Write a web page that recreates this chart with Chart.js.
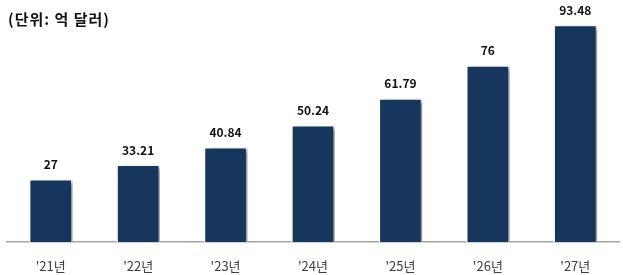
<!DOCTYPE html>
<html><head><meta charset="utf-8">
<script src="https://cdn.jsdelivr.net/npm/chart.js@4/dist/chart.umd.min.js"></script>
<style>html,body{margin:0;padding:0;background:#fff}#wrap{width:623px;height:275px}</style>
</head><body><div id="wrap"><canvas id="c"></canvas></div>
<script>
const categories = ["'21년","'22년","'23년","'24년","'25년","'26년","'27년"];
const values = [27, 33.21, 40.84, 50.24, 61.79, 76, 93.48];
const valueLabels = ["27","33.21","40.84","50.24","61.79","76","93.48"];
const unitLabel = "(단위: 억 달러)";
const FONT = "'Noto Sans CJK KR','Noto Sans',sans-serif";

const shadowPlugin = {
  id:'shadow',
  beforeDatasetsDraw(chart){
    const ctx=chart.ctx; ctx.save();
    ctx.shadowColor='rgba(0,0,0,0.45)'; ctx.shadowBlur=4; ctx.shadowOffsetX=3; ctx.shadowOffsetY=2;
  },
  afterDatasetsDraw(chart){
    const ctx=chart.ctx; ctx.restore();
    const meta=chart.getDatasetMeta(0);
    ctx.save();
    ctx.font="bold 12px "+FONT; ctx.fillStyle='#111'; ctx.textAlign='center'; ctx.textBaseline='middle';
    meta.data.forEach((bar,i)=>{ ctx.fillText(valueLabels[i], bar.x, bar.y-15); });
    ctx.textAlign='left'; ctx.textBaseline='middle';
    ctx.font="bold 15px "+FONT;
    if ('letterSpacing' in ctx) ctx.letterSpacing = '1px';
    ctx.fillText(unitLabel, 8, 19);
    ctx.restore();
  }
};

new Chart(document.getElementById('c'),{
  type:'bar',
  data:{labels:categories,datasets:[{data:values,backgroundColor:'#17365d',borderColor:'#ffffff',borderWidth:1.5,barThickness:43}]},
  options:{
    responsive:true,maintainAspectRatio:false,animation:false,
    layout:{padding:{left:7,right:4,top:10,bottom:0}},
    plugins:{legend:{display:false},tooltip:{enabled:false}},
    scales:{
      y:{display:false,min:0,max:100},
      x:{grid:{display:false},border:{color:'#a6a6a6',width:1.5},
         afterFit(scale){ scale.height = 33; },
         ticks:{color:'#404040',padding:8,font:{size:13,family:FONT}}}
    }
  },
  plugins:[shadowPlugin]
});
</script></body></html>
